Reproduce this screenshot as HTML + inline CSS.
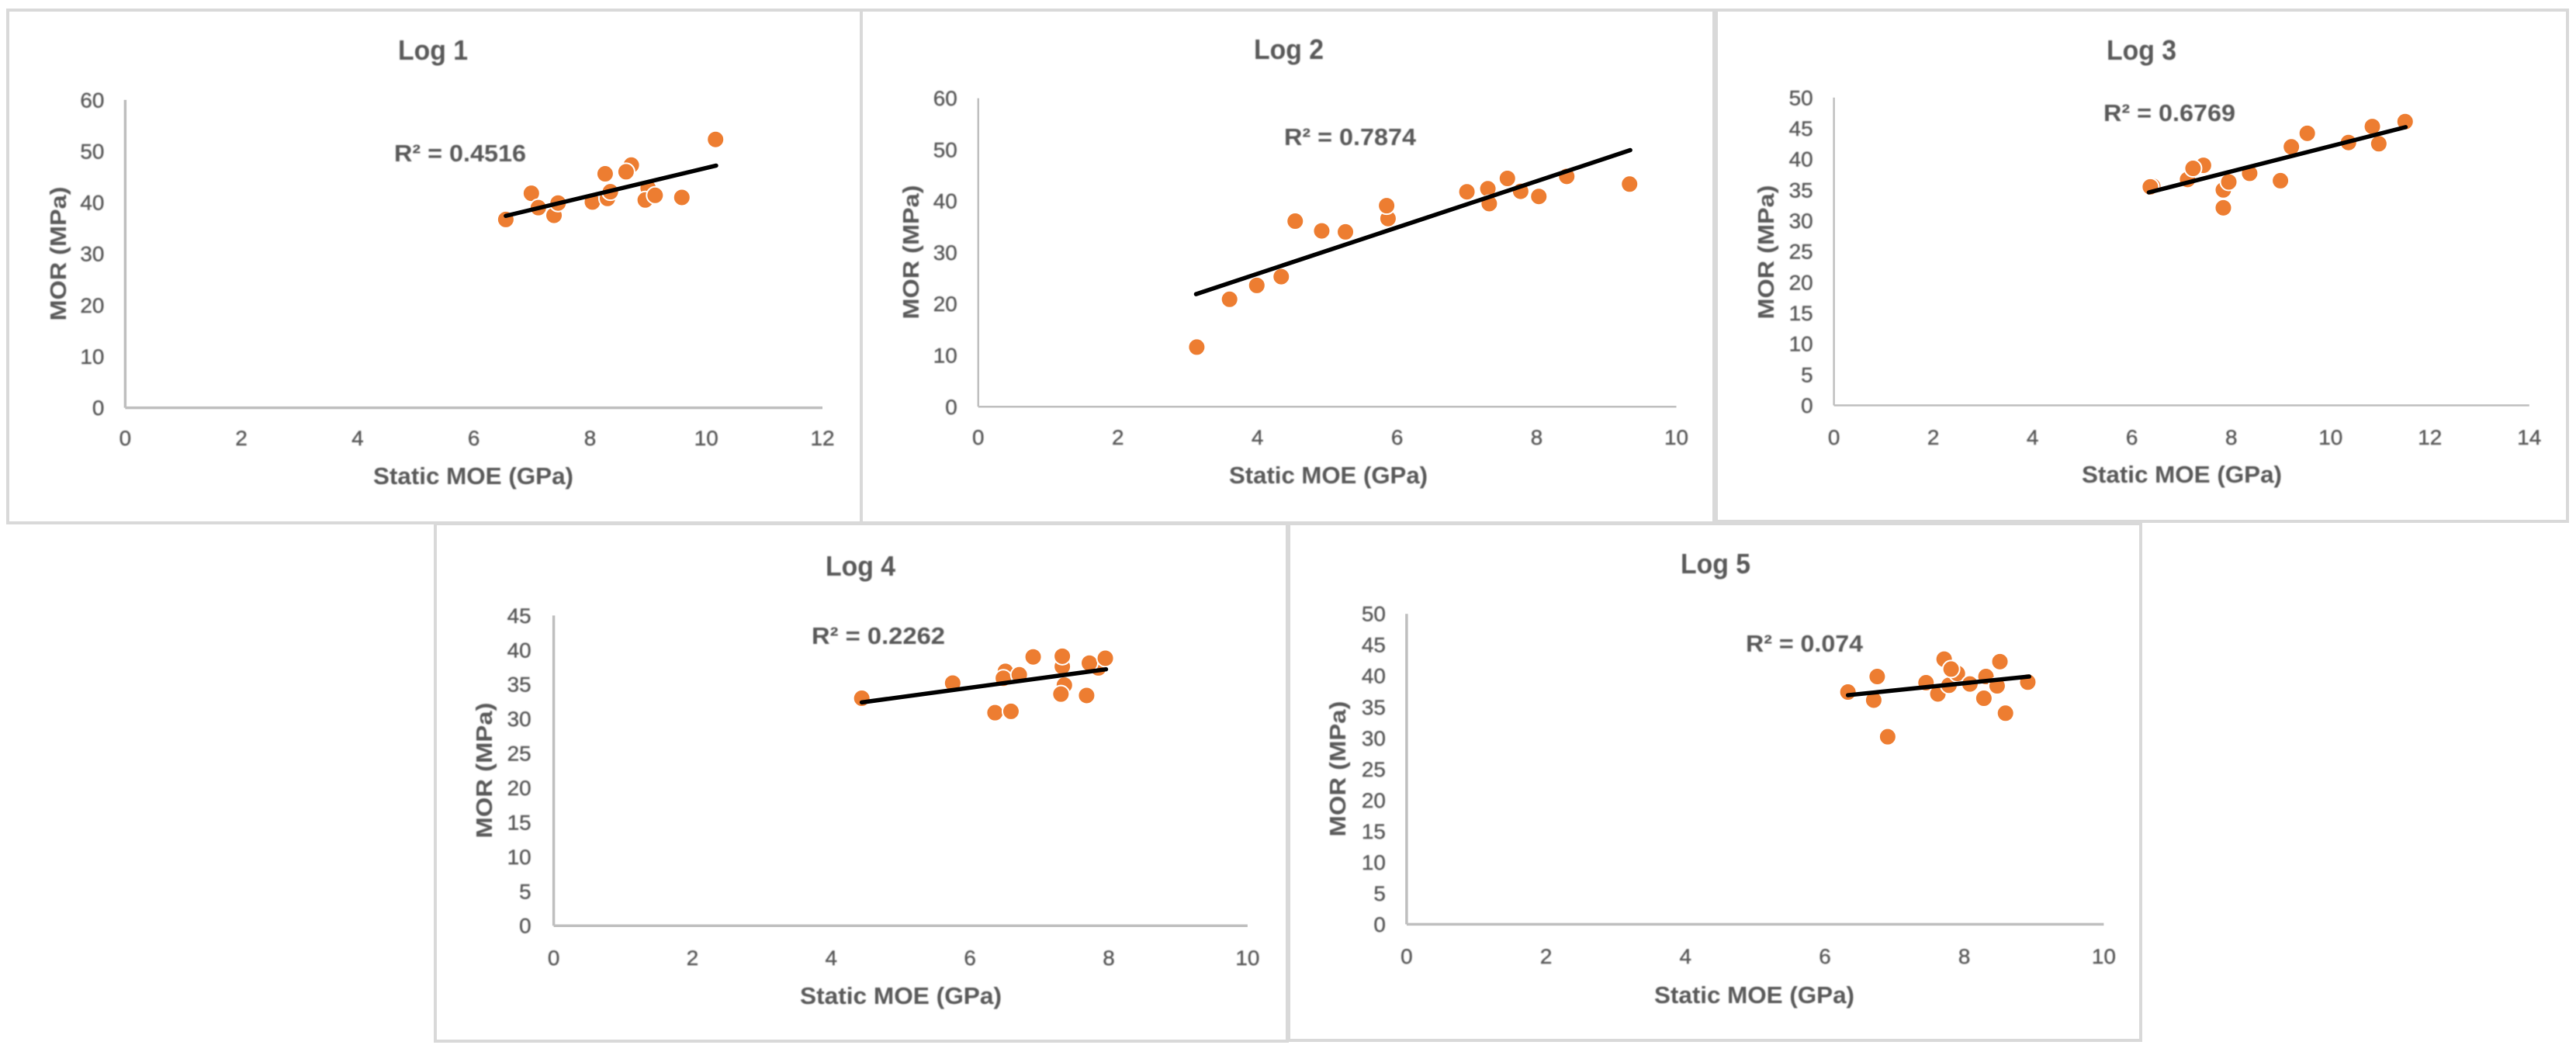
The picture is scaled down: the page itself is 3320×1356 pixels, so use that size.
<!DOCTYPE html>
<html lang="en">
<head>
<meta charset="utf-8">
<title>Static MOE vs MOR by log</title>
<style>
html,body{margin:0;padding:0;background:#fff;}
#figure{display:block;width:3320px;height:1356px;}
text{font-family:"Liberation Sans",sans-serif;fill:#595959;filter:blur(0.7px);}
.tick{font-size:27px;stroke:#595959;stroke-width:0.4px;}
.title{font-size:36px;font-weight:bold;text-anchor:middle;}
.axis-title{font-size:31px;font-weight:bold;text-anchor:middle;}
.y-title{font-size:29px;font-weight:bold;text-anchor:middle;}
.r2{font-size:31px;font-weight:bold;}
.frame{fill:#fff;stroke:#d9d9d9;stroke-width:4;}
</style>
</head>
<body>
<svg id="figure" xmlns="http://www.w3.org/2000/svg" width="3320" height="1356" viewBox="0 0 3320 1356">
  <rect width="3320" height="1356" fill="#fff"/>

  <g id="log1">
    <rect class="frame" x="10" y="13" width="1100" height="661"/>
    <text class="title" x="558" y="77" textLength="90" lengthAdjust="spacingAndGlyphs">Log 1</text>
    <text class="axis-title" x="610" y="624" textLength="258" lengthAdjust="spacingAndGlyphs">Static MOE (GPa)</text>
    <text class="y-title" transform="translate(85,327) rotate(-90)" textLength="173" lengthAdjust="spacingAndGlyphs">MOR (MPa)</text>
    <text class="r2" x="508" y="208" textLength="170" lengthAdjust="spacingAndGlyphs">R² = 0.4516</text>
  </g>

  <g id="log2">
    <rect class="frame" x="1110" y="13" width="1099" height="661"/>
    <text class="title" x="1661" y="76" textLength="90" lengthAdjust="spacingAndGlyphs">Log 2</text>
    <text class="axis-title" x="1712" y="623" textLength="256" lengthAdjust="spacingAndGlyphs">Static MOE (GPa)</text>
    <text class="y-title" transform="translate(1184,325) rotate(-90)" textLength="173" lengthAdjust="spacingAndGlyphs">MOR (MPa)</text>
    <text class="r2" x="1655" y="187" textLength="170" lengthAdjust="spacingAndGlyphs">R² = 0.7874</text>
  </g>

  <g id="log3">
    <rect class="frame" x="2212" y="13" width="1097" height="659"/>
    <text class="title" x="2760" y="77" textLength="90" lengthAdjust="spacingAndGlyphs">Log 3</text>
    <text class="axis-title" x="2812" y="622" textLength="258" lengthAdjust="spacingAndGlyphs">Static MOE (GPa)</text>
    <text class="y-title" transform="translate(2286,325) rotate(-90)" textLength="173" lengthAdjust="spacingAndGlyphs">MOR (MPa)</text>
    <text class="r2" x="2711" y="156" textLength="170" lengthAdjust="spacingAndGlyphs">R² = 0.6769</text>
  </g>

  <g id="log4">
    <rect class="frame" x="561" y="675" width="1098" height="667"/>
    <text class="title" x="1109" y="742" textLength="90" lengthAdjust="spacingAndGlyphs">Log 4</text>
    <text class="axis-title" x="1161" y="1294" textLength="260" lengthAdjust="spacingAndGlyphs">Static MOE (GPa)</text>
    <text class="y-title" transform="translate(634,993) rotate(-90)" textLength="175" lengthAdjust="spacingAndGlyphs">MOR (MPa)</text>
    <text class="r2" x="1046" y="830" textLength="172" lengthAdjust="spacingAndGlyphs">R² = 0.2262</text>
  </g>

  <g id="log5">
    <rect class="frame" x="1661" y="675" width="1098" height="666"/>
    <text class="title" x="2211" y="739" textLength="90" lengthAdjust="spacingAndGlyphs">Log 5</text>
    <text class="axis-title" x="2261" y="1293" textLength="258" lengthAdjust="spacingAndGlyphs">Static MOE (GPa)</text>
    <text class="y-title" transform="translate(1734,991) rotate(-90)" textLength="175" lengthAdjust="spacingAndGlyphs">MOR (MPa)</text>
    <text class="r2" x="2250" y="840" textLength="151" lengthAdjust="spacingAndGlyphs">R² = 0.074</text>
  </g>
</svg>

<script>
// ---- Chart data ----
const log1Moe = [6.55,6.99,7.11,7.38,7.45,8.04,8.26,8.30,8.35,8.71,8.62,9.00,8.95,9.12,9.58,10.16];
const log1Mor = [36.7,41.8,39.0,37.5,39.9,40.1,45.6,40.8,42.1,47.3,46.0,42.8,40.5,41.4,41.0,52.3];
const log1TrendMoe = [6.55,10.17];
const log1TrendMor = [37.4,47.2];
const log1XTicks = [0,2,4,6,8,10,12];
const log1YTicks = [0,10,20,30,40,50,60];

const log2Moe = [3.13,3.60,3.99,4.34,4.54,4.92,5.26,5.87,5.85,7.00,7.30,7.32,7.58,7.77,8.03,8.43,9.33];
const log2Mor = [11.6,20.9,23.6,25.3,36.1,34.2,34.0,36.6,39.1,41.8,42.4,39.5,44.4,41.9,40.9,44.8,43.3];
const log2TrendMoe = [3.12,9.34];
const log2TrendMor = [21.9,49.9];
const log2XTicks = [0,2,4,6,8,10];
const log2YTicks = [0,10,20,30,40,50,60];

const log3Moe = [6.42,6.37,7.12,7.44,7.23,7.84,7.84,7.95,8.37,8.99,9.21,9.53,10.36,10.84,10.97,11.50];
const log3Mor = [35.6,35.5,36.7,39.0,38.5,35.0,32.1,36.3,37.7,36.5,42.0,44.2,42.7,45.3,42.5,46.1];
const log3TrendMoe = [6.34,11.51];
const log3TrendMor = [34.6,45.2];
const log3XTicks = [0,2,4,6,8,10,12,14];
const log3YTicks = [0,5,10,15,20,25,30,35,40,45,50];

const log4Moe = [4.44,5.75,6.36,6.59,6.51,6.48,6.71,6.91,7.33,7.33,7.36,7.31,7.68,7.85,7.72,7.95];
const log4Mor = [33.0,35.2,30.9,31.1,36.9,35.9,36.4,39.0,37.6,39.1,34.9,33.6,33.4,37.4,38.1,38.8];
const log4TrendMoe = [4.44,7.96];
const log4TrendMor = [32.4,37.2];
const log4XTicks = [0,2,4,6,8,10];
const log4YTicks = [0,5,10,15,20,25,30,35,40,45];

const log5Moe = [6.33,6.70,6.75,6.90,7.45,7.62,7.71,7.78,7.90,7.81,8.08,8.28,8.31,8.47,8.51,8.59,8.91];
const log5Mor = [37.4,36.1,39.9,30.2,38.9,37.1,42.7,38.5,40.4,41.1,38.7,36.4,39.9,38.4,42.3,34.0,39.0];
const log5TrendMoe = [6.33,8.93];
const log5TrendMor = [36.9,39.9];
const log5XTicks = [0,2,4,6,8,10];
const log5YTicks = [0,5,10,15,20,25,30,35,40,45,50];

// ---- Plot geometry, one rectangle per chart ----
const plot1 = {left:161.4,right:1060,top:128.8,bottom:525.6,xTickBase:574,yTickGap:27,axisW:3.5};
const plot2 = {left:1260.8,right:2160.5,top:126.6,bottom:524.3,xTickBase:573,yTickGap:27,axisW:2.5};
const plot3 = {left:2363.6,right:3259.8,top:125.8,bottom:522.5,xTickBase:573,yTickGap:27,axisW:2.5};
const plot4 = {left:713.6,right:1607.9,top:793.4,bottom:1193.2,xTickBase:1244,yTickGap:29,axisW:3.5};
const plot5 = {left:1812.9,right:2711.4,top:791.2,bottom:1191.4,xTickBase:1242,yTickGap:27,axisW:3.5};

const SVG_NS = 'http://www.w3.org/2000/svg';

function make(parent, tag, attrs) {
  const el = document.createElementNS(SVG_NS, tag);
  for (const key in attrs) {
    el.setAttribute(key, attrs[key]);
  }
  parent.appendChild(el);
  return el;
}

function makeXScale(plot, ticks) {
  const max = ticks[ticks.length - 1];
  return function (v) { return plot.left + (v / max) * (plot.right - plot.left); };
}

function makeYScale(plot, ticks) {
  const max = ticks[ticks.length - 1];
  return function (v) { return plot.bottom - (v / max) * (plot.bottom - plot.top); };
}

function drawChart(groupId, plot, moe, mor, trendMoe, trendMor, xTicks, yTicks) {
  const group = document.getElementById(groupId);
  const x = makeXScale(plot, xTicks);
  const y = makeYScale(plot, yTicks);

  const yAxis = make(group, 'line', {x1:plot.left, x2:plot.left, y1:plot.top, y2:plot.bottom, stroke:'#bfbfbf', 'stroke-width':plot.axisW});
  
  

  const xAxis = make(group, 'line', {x1:plot.left, x2:plot.right, y1:plot.bottom, y2:plot.bottom, stroke:'#bfbfbf', 'stroke-width':plot.axisW});
  
  

  xTicks.forEach(function (t) {
    const label = make(group, 'text', {'class':'tick', x:x(t), y:plot.xTickBase, 'text-anchor':'middle', textLength:String(t).length * 15.5, lengthAdjust:'spacingAndGlyphs'});
    label.textContent = t;
    
    
  });

  yTicks.forEach(function (t) {
    const label = make(group, 'text', {'class':'tick', x:plot.left - plot.yTickGap, y:y(t) + 9.5, 'text-anchor':'end', textLength:String(t).length * 15.5, lengthAdjust:'spacingAndGlyphs'});
    label.textContent = t;
    
    
  });

  moe.forEach(function (v, i) {
    const dot = make(group, 'circle', {cx:x(v), cy:y(mor[i]), r:11, fill:'#ed7d31', stroke:'#fff', 'stroke-width':2});
    
    
  });

  const trend = make(group, 'line', {x1:x(trendMoe[0]), y1:y(trendMor[0]), x2:x(trendMoe[1]), y2:y(trendMor[1]), stroke:'#000', 'stroke-width':5.5, 'stroke-linecap':'round'});
  
  
}

drawChart('log1', plot1, log1Moe, log1Mor, log1TrendMoe, log1TrendMor, log1XTicks, log1YTicks);
drawChart('log2', plot2, log2Moe, log2Mor, log2TrendMoe, log2TrendMor, log2XTicks, log2YTicks);
drawChart('log3', plot3, log3Moe, log3Mor, log3TrendMoe, log3TrendMor, log3XTicks, log3YTicks);
drawChart('log4', plot4, log4Moe, log4Mor, log4TrendMoe, log4TrendMor, log4XTicks, log4YTicks);
drawChart('log5', plot5, log5Moe, log5Mor, log5TrendMoe, log5TrendMor, log5XTicks, log5YTicks);
</script>
</body>
</html>
